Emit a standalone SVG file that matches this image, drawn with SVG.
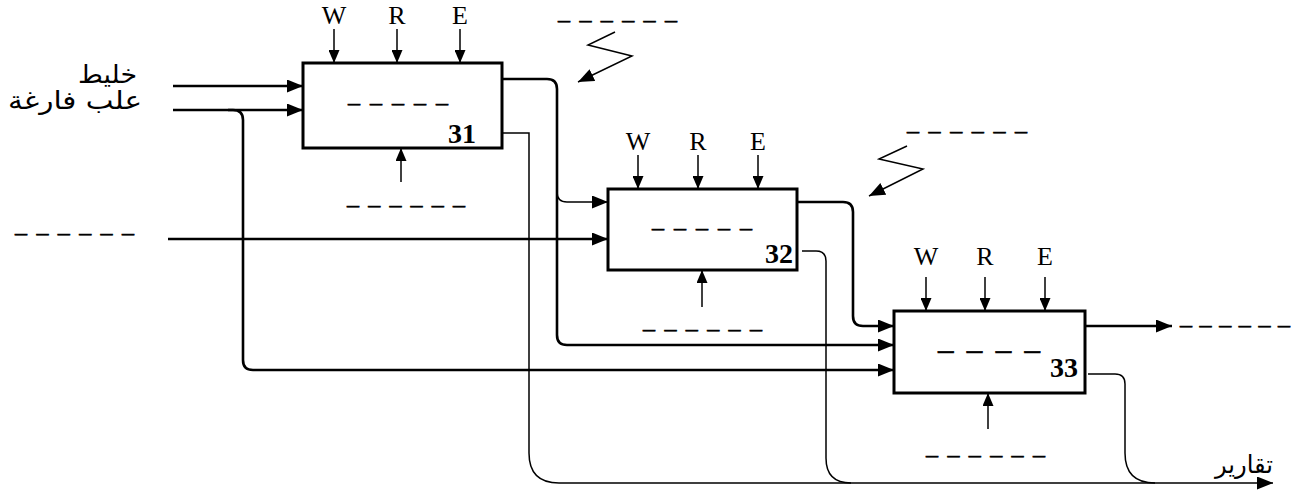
<svg xmlns="http://www.w3.org/2000/svg" width="1293" height="495" viewBox="0 0 1293 495">
<style>
.box{fill:#fff;stroke:#000;stroke-width:3}
.thick{fill:none;stroke:#000;stroke-width:2.6}
.thin{fill:none;stroke:#000;stroke-width:1.5}
.lbl{font-family:"Liberation Serif",serif;font-size:26px;fill:#000;text-anchor:middle}
.num{font-family:"Liberation Serif",serif;font-size:28px;font-weight:bold;fill:#000;text-anchor:end}
.dash{font-family:"Liberation Serif",serif;font-size:24px;fill:#000;stroke:#000;stroke-width:0.6}
.ar{font-family:"DejaVu Sans","Liberation Sans",sans-serif;font-size:25px;fill:#000;text-anchor:end}
</style>
<defs>
<marker id="ah" markerUnits="userSpaceOnUse" markerWidth="17" markerHeight="13" refX="16" refY="6.5" orient="auto"><path d="M0,0 L16,6.5 L0,13 z" fill="#000"/></marker>
<marker id="as" markerUnits="userSpaceOnUse" markerWidth="14" markerHeight="11" refX="13" refY="5.5" orient="auto"><path d="M0,0 L13,5.5 L0,11 z" fill="#000"/></marker>
</defs>

<g id="connectors">
<path class="thick" d="M173,86 H303" marker-end="url(#ah)"/>
<path class="thick" d="M173,110 H303" marker-end="url(#ah)"/>
<path class="thick" d="M228,110 H233 Q243,110 243,120 V360 Q243,370 253,370 H894" marker-end="url(#ah)"/>
<path class="thick" d="M168,239 H608" marker-end="url(#ah)"/>
<path class="thick" d="M502,79 H547 Q557,79 557,89 V335 Q557,345 567,345 H894" marker-end="url(#ah)"/>
<path class="thin" d="M557,192 Q557,202 567,202 H608" marker-end="url(#ah)"/>
<path class="thick" d="M797,202 H843 Q853,202 853,212 V316 Q853,326 863,326 H894" marker-end="url(#ah)"/>
<path class="thick" d="M1085,326 H1172" marker-end="url(#ah)"/>
<path class="thin" d="M502,133 H529 V453 Q529,483 559,483 H1273" marker-end="url(#ah)"/>
<path class="thin" d="M802,251 H816 Q826,251 826,261 V458 Q826,483 851,483"/>
<path class="thin" d="M1088,374 H1115 Q1125,374 1125,384 V453 Q1125,483 1155,483"/>
<path class="thin" d="M615,32 L588,45 L632,56 L578,82" marker-end="url(#ah)"/>
<path class="thin" d="M907,146 L879,159 L923,169 L869,196" marker-end="url(#ah)"/>
</g>

<g id="node31">
<rect class="box" x="303" y="63" width="199" height="85"/>
<text class="lbl" x="334" y="24">W</text>
<text class="lbl" x="397" y="24">R</text>
<text class="lbl" x="460" y="24">E</text>
<path class="thin" d="M334,29 V63" marker-end="url(#as)"/>
<path class="thin" d="M397,29 V63" marker-end="url(#as)"/>
<path class="thin" d="M460,29 V63" marker-end="url(#as)"/>
<path class="thin" d="M401,182 V148" marker-end="url(#as)"/>
<text class="dash" x="348" y="110" textLength="100" lengthAdjust="spacing">– – – – –</text>
<text class="dash" x="347" y="212" textLength="118" lengthAdjust="spacing">– – – – – –</text>
<text class="num" x="476" y="143">31</text>
</g>

<g id="node32">
<rect class="box" x="608" y="189" width="189" height="81"/>
<text class="lbl" x="638" y="150">W</text>
<text class="lbl" x="698" y="150">R</text>
<text class="lbl" x="758" y="150">E</text>
<path class="thin" d="M638,155 V189" marker-end="url(#as)"/>
<path class="thin" d="M698,155 V189" marker-end="url(#as)"/>
<path class="thin" d="M758,155 V189" marker-end="url(#as)"/>
<path class="thin" d="M702,307 V270" marker-end="url(#as)"/>
<text class="dash" x="652" y="235" textLength="100" lengthAdjust="spacing">– – – – –</text>
<text class="dash" x="643" y="336" textLength="119" lengthAdjust="spacing">– – – – – –</text>
<text class="num" x="793" y="263">32</text>
</g>

<g id="node33">
<rect class="box" x="894" y="311" width="191" height="82"/>
<text class="lbl" x="926" y="265">W</text>
<text class="lbl" x="985" y="265">R</text>
<text class="lbl" x="1045" y="265">E</text>
<path class="thin" d="M926,277 V311" marker-end="url(#as)"/>
<path class="thin" d="M985,277 V311" marker-end="url(#as)"/>
<path class="thin" d="M1045,277 V311" marker-end="url(#as)"/>
<path class="thin" d="M988,429 V393" marker-end="url(#as)"/>
<text class="dash" x="938" y="360" textLength="102" lengthAdjust="spacing" style="font-size:31px">– – – –</text>
<text class="dash" x="926" y="462" textLength="119" lengthAdjust="spacing">– – – – – –</text>
<text class="num" x="1078" y="377">33</text>
</g>

<g id="labels">
<text class="ar" x="137" y="83" textLength="59" lengthAdjust="spacingAndGlyphs">خليط</text>
<text class="ar" x="142" y="109" textLength="134" lengthAdjust="spacingAndGlyphs">علب فارغة</text>
<text class="ar" x="1273" y="473" textLength="58" lengthAdjust="spacingAndGlyphs">تقارير</text>
<text class="dash" x="15" y="240" textLength="119" lengthAdjust="spacing">– – – – – –</text>
<text class="dash" x="558" y="27" textLength="119" lengthAdjust="spacing">– – – – – –</text>
<text class="dash" x="907" y="138" textLength="120" lengthAdjust="spacing">– – – – – –</text>
<text class="dash" x="1180" y="332" textLength="110" lengthAdjust="spacing">– – – – – –</text>
</g>
</svg>
